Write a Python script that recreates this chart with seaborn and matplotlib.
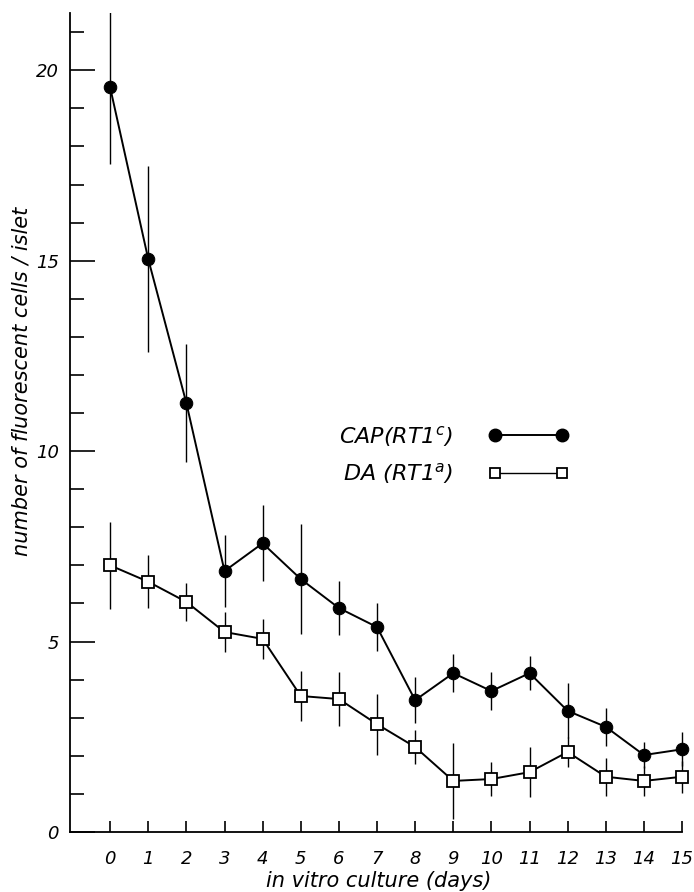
import numpy as np
import pandas as pd
import matplotlib
matplotlib.use("Agg")
import matplotlib.pyplot as plt
import seaborn as sns
from matplotlib.lines import Line2D

# values
days = list(range(16))
cap_mean = [19.55, 15.04, 11.26, 6.85, 7.58, 6.64, 5.88, 5.38, 3.46, 4.17, 3.70, 4.17, 3.18, 2.76, 2.02, 2.17]
cap_err = [2.0, 2.45, 1.55, 0.95, 1.0, 1.45, 0.7, 0.62, 0.6, 0.5, 0.5, 0.45, 0.72, 0.5, 0.35, 0.45]
da_mean = [7.00, 6.57, 6.04, 5.25, 5.07, 3.57, 3.49, 2.83, 2.23, 1.34, 1.39, 1.57, 2.10, 1.45, 1.34, 1.45]
da_err = [1.15, 0.7, 0.5, 0.52, 0.53, 0.65, 0.72, 0.8, 0.45, 1.0, 0.45, 0.65, 0.4, 0.5, 0.4, 0.42]
labels = ["CAP(RT1$^c$)", "DA (RT1$^a$)"]

sns.set_style("ticks")
plt.rcParams['font.family'] = ['DejaVu Sans']
plt.rcParams['font.style'] = 'italic'
plt.rcParams['mathtext.default'] = 'it'
for key in ['text.color', 'axes.labelcolor', 'xtick.color', 'ytick.color', 'axes.edgecolor']:
    plt.rcParams[key] = 'black'

fig = plt.figure(figsize=(6.94, 8.92), dpi=100)
ax = fig.add_axes([0.101, 0.0673, 0.89, 0.918])

df = pd.DataFrame({"day": days * 2,
                   "value": cap_mean + da_mean,
                   "err": cap_err + da_err,
                   "strain": [labels[0]] * 16 + [labels[1]] * 16})

# error bars (thin vertical lines, no caps)
ax.vlines(df["day"], df["value"] - df["err"], df["value"] + df["err"],
          color="black", lw=1.0, zorder=1)

sns.lineplot(data=df[df.strain == labels[0]], x="day", y="value", ax=ax,
             color="black", lw=1.4, marker="o", markersize=9,
             markerfacecolor="black", markeredgecolor="black", zorder=3,
             clip_on=False)
sns.lineplot(data=df[df.strain == labels[1]], x="day", y="value", ax=ax,
             color="black", lw=1.4, marker="s", markersize=9,
             markerfacecolor="white", markeredgecolor="black",
             markeredgewidth=1.3, zorder=3, clip_on=False)

ax.set_xlim(-1.05, 15.15)
ax.set_ylim(0, 21.5)
sns.despine(ax=ax)
ax.spines["bottom"].set_bounds(-1.05, 15.0)
ax.spines["left"].set_linewidth(1.3)
ax.spines["bottom"].set_linewidth(1.3)

ax.set_xticks(days)
ax.set_xticklabels([str(d) for d in days], fontsize=13)
ax.set_yticks([0, 5, 10, 15, 20])
ax.set_yticklabels(["0", "5", "10", "15", "20"], fontsize=13)
ax.set_yticks(range(0, 22), minor=True)
ax.tick_params(axis="y", which="major", direction="in", length=18, width=1.2, pad=8)
ax.tick_params(axis="y", which="minor", direction="in", length=10, width=1.2)
ax.tick_params(axis="x", which="major", direction="in", length=8, width=1.2, pad=13)

ax.set_xlabel("in vitro culture (days)", fontsize=15, labelpad=2)
ax.set_ylabel("number of fluorescent cells / islet", fontsize=15)
ax.yaxis.set_label_coords(-0.062, 0.55)

handles = [
    Line2D([], [], color="black", lw=1.4, marker="o", markersize=9,
           markerfacecolor="black"),
    Line2D([], [], color="black", lw=1.0, marker="s", markersize=7.5,
           markerfacecolor="white", markeredgewidth=1.3),
]
fig.legend(handles, labels, numpoints=2, markerfirst=False, frameon=False,
           handlelength=3.6, handletextpad=1.6, fontsize=16, labelspacing=0.55,
           loc="center left", bbox_to_anchor=(0.46, 0.49),
           bbox_transform=fig.transFigure)

fig.savefig("out.png", dpi=100)
